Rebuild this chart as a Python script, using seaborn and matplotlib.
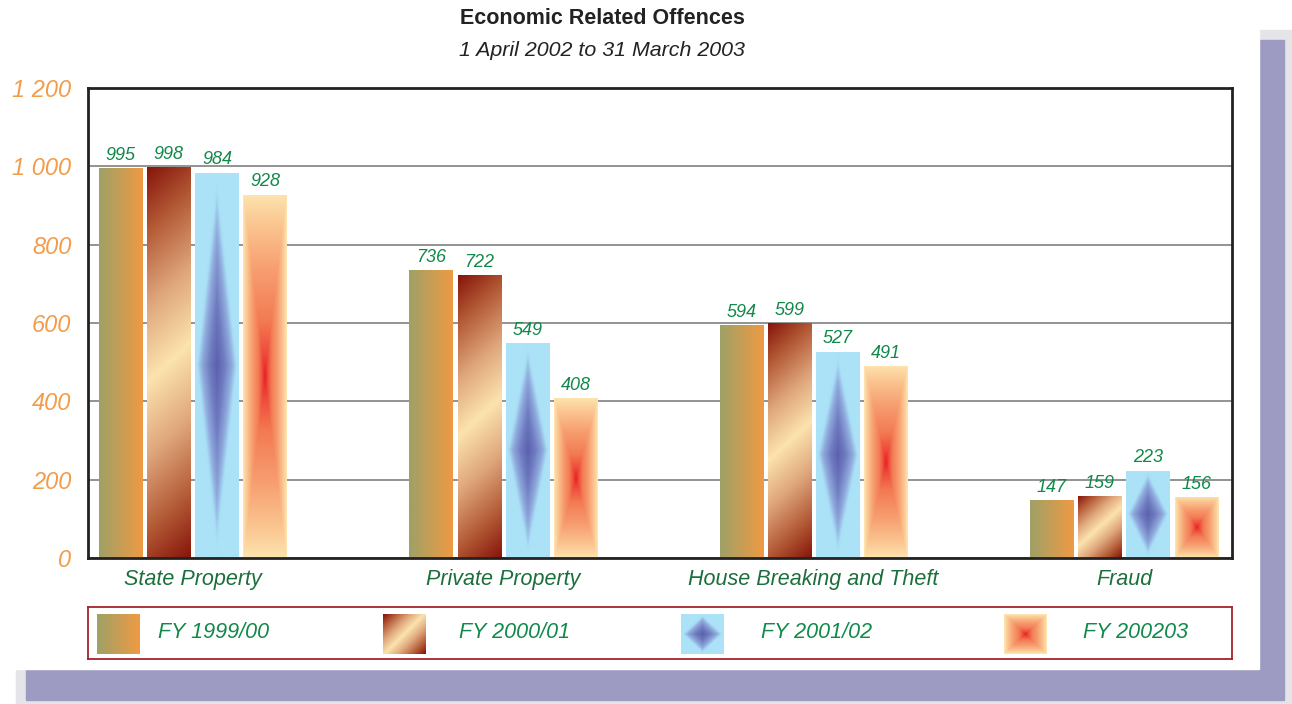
import numpy as np
import pandas as pd
import matplotlib
matplotlib.use("Agg")
import matplotlib.pyplot as plt
from matplotlib.patches import Rectangle
from matplotlib.colors import to_rgb
import seaborn as sns

# ---------------- data ----------------
categories = ["State Property", "Private Property", "House Breaking and Theft", "Fraud"]
years = ["FY 1999/00", "FY 2000/01", "FY 2001/02", "FY 200203"]
fy_1999_00 = [995, 736, 594, 147]
fy_2000_01 = [998, 722, 599, 159]
fy_2001_02 = [984, 549, 527, 223]
fy_2002_03 = [928, 408, 491, 156]
series = [fy_1999_00, fy_2000_01, fy_2001_02, fy_2002_03]
y_ticks = [0, 200, 400, 600, 800, 1000, 1200]
y_tick_labels = ["0", "200", "400", "600", "800", "1 000", "1 200"]

rows = []
for yr, vals in zip(years, series):
    for c, v in zip(categories, vals):
        rows.append({"category": c, "year": yr, "value": v})
df = pd.DataFrame(rows)

# ---------------- style ----------------
sns.set_style("white")
plt.rcParams["font.family"] = ["Liberation Sans", "DejaVu Sans"]

W, H = 1292, 704
fig = plt.figure(figsize=(W / 100, H / 100), dpi=100)
fig.patch.set_facecolor("white")

def fx(x):
    return x / W

def fy(y):
    return 1 - y / H

# decorative page background
fig.add_artist(Rectangle((fx(16), fy(704)), (1292 - 16) / W, (704 - 30) / H,
                         transform=fig.transFigure, color="#e5e5e9", zorder=-10))
fig.add_artist(Rectangle((fx(26), fy(700)), (1284 - 26) / W, (700 - 40) / H,
                         transform=fig.transFigure, color="#9d9bc1", zorder=-9))
fig.add_artist(Rectangle((0, fy(669)), 1259 / W, 669 / H,
                         transform=fig.transFigure, color="white", zorder=-8))

GREEN = "#12894a"
CAT_GREEN = "#1b6f3c"
ORANGE = "#f39c4a"

# gradient definitions
stops = {
    "h": [(0.0, "#9fa166"), (1.0, "#ee9a44")],
    "diag": [(0.0, "#fce3ae"), (0.35, "#dfa67c"), (0.7, "#b35a36"), (1.0, "#86140a")],
    "diamond": [(0.0, "#5a61ad"), (0.35, "#6f7cc0"), (0.7, "#90aadd"), (0.92, "#a9e0f6"), (1.0, "#abe2f7")],
    "pyramid": [(0.0, "#e81e26"), (0.12, "#ee4a3a"), (0.3, "#f37a52"), (0.6, "#f7a072"),
                (0.85, "#fbc893"), (1.0, "#fde3ae")],
}
kinds = ["h", "diag", "diamond", "pyramid"]
base_colors = ["#c69c55", "#c37e5e", "#8fa8e0", "#f48a5c"]


def colorize(kind, t):
    st = stops[kind]
    pos = [p for p, _ in st]
    cols = np.array([to_rgb(c) for _, c in st])
    out = np.zeros(t.shape + (3,))
    for ch in range(3):
        out[..., ch] = np.interp(t, pos, cols[:, ch])
    return out


def gradient(kind, wpx, hpx, angle=42):
    nx = max(int(round(wpx)), 2)
    ny = max(int(round(hpx)), 2)
    U, V = np.meshgrid(np.linspace(-1, 1, nx), np.linspace(1, -1, ny))
    if kind == "h":
        t = (U + 1) / 2
    elif kind == "diag":
        a = np.deg2rad(angle)
        X = U * wpx / 2
        Y = V * hpx / 2
        d = -X * np.sin(a) + Y * np.cos(a)
        t = np.abs(d) / np.abs(d).max()
    elif kind == "diamond":
        t = np.clip(np.abs(U) + np.abs(V), 0, 1)
    else:
        t = np.maximum(np.abs(U), np.abs(V))
    return colorize(kind, t)


# ---------------- main axes ----------------
ax = fig.add_axes([fx(88), fy(558), (1232 - 88) / W, (558 - 88) / H])
ax.set_facecolor("white")

sns.barplot(data=df, x="category", y="value", hue="year", order=categories,
            hue_order=years, palette=base_colors, width=0.62, gap=0.1,
            errorbar=None, linewidth=0, legend=False, ax=ax)

ax.set_xlim(-0.338, 3.348)
ax.set_ylim(0, 1200)
ax.set_yticks(y_ticks)
ax.set_yticklabels(y_tick_labels)
ax.set_xlabel("")
ax.set_ylabel("")
ax.yaxis.grid(True, color="#8a8a8a", linewidth=1.3)
ax.xaxis.grid(False)
ax.set_axisbelow(True)
for s in ax.spines.values():
    s.set_visible(True)
    s.set_color("#222222")
    s.set_linewidth(2.0)
ax.tick_params(axis="both", length=0)
ax.tick_params(axis="y", pad=12)
ax.tick_params(axis="x", pad=8)
for lab in ax.get_yticklabels():
    lab.set_fontsize(17)
    lab.set_fontstyle("italic")
    lab.set_color(ORANGE)
for lab in ax.get_xticklabels():
    lab.set_fontsize(15.5)
    lab.set_fontstyle("italic")
    lab.set_color(CAT_GREEN)

# gradient fills clipped to each bar
for kind, cont in zip(kinds, ax.containers):
    for bar in cont:
        x0, y0 = bar.get_x(), bar.get_y()
        w, h = bar.get_width(), bar.get_height()
        ext = bar.get_window_extent()
        img = gradient(kind, ext.width, ext.height)
        im = ax.imshow(img, extent=(x0, x0 + w, y0, y0 + h), aspect="auto",
                       interpolation="bilinear", zorder=bar.get_zorder() + 0.1)
        im.set_clip_path(bar)
    ax.bar_label(cont, labels=[f"{int(v)}" for v in cont.datavalues], padding=3,
                 fontsize=13, fontstyle="italic", color=GREEN)

ax.set_xlim(-0.338, 3.348)
ax.set_ylim(0, 1200)
ax.set_aspect("auto")

# ---------------- title ----------------
fig.text(fx(602), fy(18), "Economic Related Offences", ha="center", va="center",
         fontsize=15.5, fontweight="bold", color="#222222")
fig.text(fx(602), fy(50), "1 April 2002 to 31 March 2003", ha="center", va="center",
         fontsize=15.4, fontstyle="italic", color="#222222")

# ---------------- legend ----------------
lax = fig.add_axes([fx(88), fy(659), (1232 - 88) / W, (659 - 607) / H])
lax.set_xlim(88, 1232)
lax.set_ylim(659, 607)
lax.set_xticks([])
lax.set_yticks([])
for s in lax.spines.values():
    s.set_color("#a3242b")
    s.set_linewidth(1.3)
patch_x = [97, 383, 681, 1004]
text_x = [158, 459, 761, 1083]
for kind, px, tx, name in zip(kinds, patch_x, text_x, years):
    img = gradient(kind, 43, 40, angle=45)
    lax.imshow(img, extent=(px, px + 43, 654, 614), aspect="auto", interpolation="bilinear")
    lax.text(tx, 632, name, ha="left", va="center", fontsize=15.5,
             fontstyle="italic", color=GREEN)
lax.set_xlim(88, 1232)
lax.set_ylim(659, 607)
lax.set_aspect("auto")

fig.savefig("out.png", dpi=100)
